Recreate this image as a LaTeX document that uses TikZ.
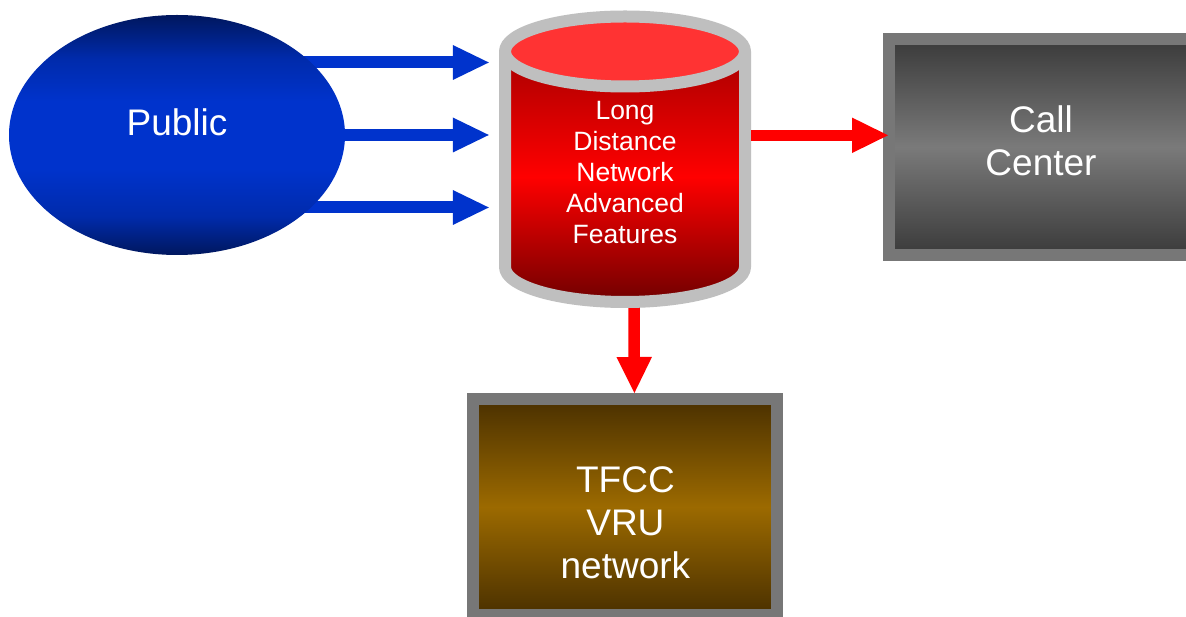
\documentclass[tikz,border=0pt]{standalone}
\usepackage{fontspec}
\setmainfont{Liberation Sans}
\usetikzlibrary{arrows.meta,shapes.geometric}
\definecolor{pblue}{HTML}{0033CC}
\definecolor{pnavy}{HTML}{00175E}
\definecolor{cylgray}{HTML}{BFBFBF}
\definecolor{boxgray}{HTML}{777777}
\definecolor{captop}{HTML}{FF3333}
\definecolor{redtop}{HTML}{A80000}
\definecolor{redbot}{HTML}{700000}
\definecolor{ccdark}{HTML}{3A3A3A}
\definecolor{ccmid}{HTML}{7A7A7A}
\definecolor{brdark}{HTML}{4A3000}
\definecolor{brmid}{HTML}{9C6A00}
\pgfdeclareverticalshading{pubshade}{100bp}{color(0bp)=(pnavy); color(25bp)=(pnavy);
  color(33bp)=(pblue!70!pnavy); color(43bp)=(pblue); color(57bp)=(pblue);
  color(66bp)=(pblue!70!pnavy); color(75bp)=(pnavy); color(100bp)=(pnavy)}
\pgfdeclarelayer{bg}
\pgfsetlayers{bg,main}
\begin{document}
\begin{tikzpicture}[x=1pt,y=1pt,
  bigtext/.style={text=white, align=center, inner sep=0pt, font=\fontsize{37}{43}\selectfont},
  cyltext/.style={text=white, align=center, inner sep=0pt, font=\fontsize{26.5}{31}\selectfont},
  pubshape/.style={ellipse, minimum width=336pt, minimum height=240pt, inner sep=0pt,
     shading=pubshade},
  graybox/.style={rectangle, draw=boxgray, line width=12pt, inner sep=0pt,
     minimum width=304pt, minimum height=216pt},
  ccbox/.style={graybox, top color=ccdark, bottom color=ccdark, middle color=ccmid},
  brbox/.style={graybox, top color=brdark, bottom color=brdark, middle color=brmid},
  bluearrow/.style={draw=pblue, line width=12pt, -{Triangle[length=36pt,width=35pt,line width=0pt]}},
  redarrow/.style={draw=red, line width=11.5pt, -{Triangle[length=36pt,width=35.5pt,line width=0pt]}},
  cylline/.style={draw=cylgray, line width=12pt, line join=round}]
\useasboundingbox (0,0) rectangle (1186,616);
\clip (0,0) rectangle (1186,616);

% nodes
\node[pubshape] (pub) at (177,481) {};
\node[bigtext] (pubtext) at (177,494) {Public};

\node[minimum width=252pt, minimum height=298pt, inner sep=0pt] (ld) at (625,457) {};

\node[ccbox] (cc) at (1041,469) {};
\node[bigtext] (cctext) at (1041,475) {Call\\Center};

\node[brbox] (tfcc) at (625.4,109) {};
\node[bigtext] (tfcctext) at (625.4,93.5) {TFCC\\VRU\\network};

% cylinder
\path[top color=redtop, bottom color=redbot, middle color=red]
  (505,564.5) -- (505,349) arc[start angle=180, end angle=360, x radius=120, y radius=35]
  -- (745,564.5) -- cycle;
\draw[cylline]
  (505,564.5) -- (505,349) arc[start angle=180, end angle=360, x radius=120, y radius=35]
  -- (745,564.5);
\draw[cylline, fill=captop] (625,564.5) ellipse[x radius=120, y radius=35];
\node[cyltext] (ldtext) at (625,443.5) {Long\\Distance\\Network\\Advanced\\Features};

% connectors
\begin{pgfonlayer}{bg}
  \fill[white] (0,0) rectangle (1186,616);
  \coordinate (pa1) at ([yshift=72.5pt]pub.center);
  \coordinate (pa2) at (pub.center);
  \coordinate (pa3) at ([yshift=-72.5pt]pub.center);
  \draw[bluearrow] (pa1) -- ([xshift=-10pt]ld.west |- pa1);
  \draw[bluearrow] (pa2) -- ([xshift=-10pt]ld.west |- pa2);
  \draw[bluearrow] (pa3) -- ([xshift=-10pt]ld.west |- pa3);
  \draw[redarrow] ([xshift=9pt,yshift=6pt]ld.south) -- ([xshift=9pt]tfcc.north);
\end{pgfonlayer}
\coordinate (ra) at ([yshift=11.7pt,xshift=5pt]cc.west);
\draw[redarrow] (ld.east |- ra) -- (ra);
\end{tikzpicture}
\end{document}
